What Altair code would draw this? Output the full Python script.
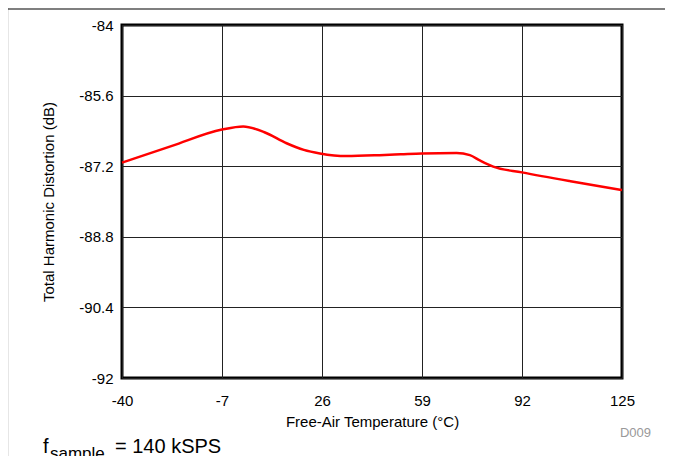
import altair as alt
import pandas as pd

# Data
temp = [-40, -23.5, -7, 0, 7, 14.3, 20, 25.3, 34, 45, 52, 59, 70.4, 74.8, 78.1, 82.5, 92, 108, 125]
thd = [-87.12, -86.74, -86.37, -86.30, -86.43, -86.68, -86.83, -86.91, -86.97, -86.95, -86.93,
       -86.91, -86.90, -86.95, -87.07, -87.21, -87.34, -87.54, -87.74]
x_ticks = [-40, -7, 26, 59, 92, 125]
y_ticks = [-92, -90.4, -88.8, -87.2, -85.6, -84]

df = pd.DataFrame({"T": temp, "THD": thd})
one = pd.DataFrame({"a": [0]})

FONT = "Liberation Sans"
W, H = 500, 353

line = alt.Chart(df).mark_line(color="#FF0000", strokeWidth=2.5, interpolate="monotone").encode(
    x=alt.X("T:Q", scale=alt.Scale(domain=[-40, 125], nice=False, zero=False),
            axis=alt.Axis(values=x_ticks, title="Free-Air Temperature (°C)", domain=False, ticks=False,
                          grid=True, gridColor="#222222", gridWidth=1, labelPadding=15,
                          labelExpr="'' + datum.value",
                          labelFontSize=15, titleFontSize=15, titleFontWeight="normal",
                          labelFont=FONT, titleFont=FONT, labelColor="#000", titleColor="#000",
                          titlePadding=6, labelFlush=False)),
    y=alt.Y("THD:Q", scale=alt.Scale(domain=[-92, -84], nice=False, zero=False),
            axis=alt.Axis(values=y_ticks, title="Total Harmonic Distortion (dB)", domain=False, ticks=False,
                          grid=True, gridColor="#222222", gridWidth=1, labelPadding=9,
                          labelExpr="'' + datum.value",
                          labelFontSize=15, titleFontSize=15, titleFontWeight="normal",
                          labelFont=FONT, titleFont=FONT, labelColor="#000", titleColor="#000",
                          titlePadding=22, labelFlush=False)),
)

left_border = alt.Chart(one).mark_rule(color="#000", strokeWidth=1.2).encode(
    x=alt.value(-114.5), y=alt.value(-25), y2=alt.value(H + 100))
top_border = alt.Chart(one).mark_rule(color="#000", strokeWidth=1.2).encode(
    x=alt.value(-115), x2=alt.value(W + 60), y=alt.value(-16))

f_txt = alt.Chart(one).mark_text(align="left", baseline="alphabetic", font=FONT, fontSize=20, color="#000").encode(
    x=alt.value(-79), y=alt.value(428), text=alt.value("f"))
sub_txt = alt.Chart(one).mark_text(align="left", baseline="alphabetic", font=FONT, fontSize=17, color="#000").encode(
    x=alt.value(-72), y=alt.value(434), text=alt.value("sample"))
eq_txt = alt.Chart(one).mark_text(align="left", baseline="alphabetic", font=FONT, fontSize=20, color="#000").encode(
    x=alt.value(-7), y=alt.value(428), text=alt.value("= 140 kSPS"))
d_txt = alt.Chart(one).mark_text(align="right", baseline="alphabetic", font=FONT, fontSize=13, color="#999999").encode(
    x=alt.value(529), y=alt.value(412), text=alt.value("D009"))

chart = alt.layer(line, left_border, top_border, f_txt, sub_txt, eq_txt, d_txt).properties(
    width=W, height=H,
    autosize=alt.AutoSizeParams(type="none"),
    padding={"left": 114, "top": 17, "right": 43, "bottom": 78},
    background="white",
).configure_view(stroke="#000", strokeWidth=3)

chart.save("out.html", embed_options={"renderer": "svg", "actions": False})
